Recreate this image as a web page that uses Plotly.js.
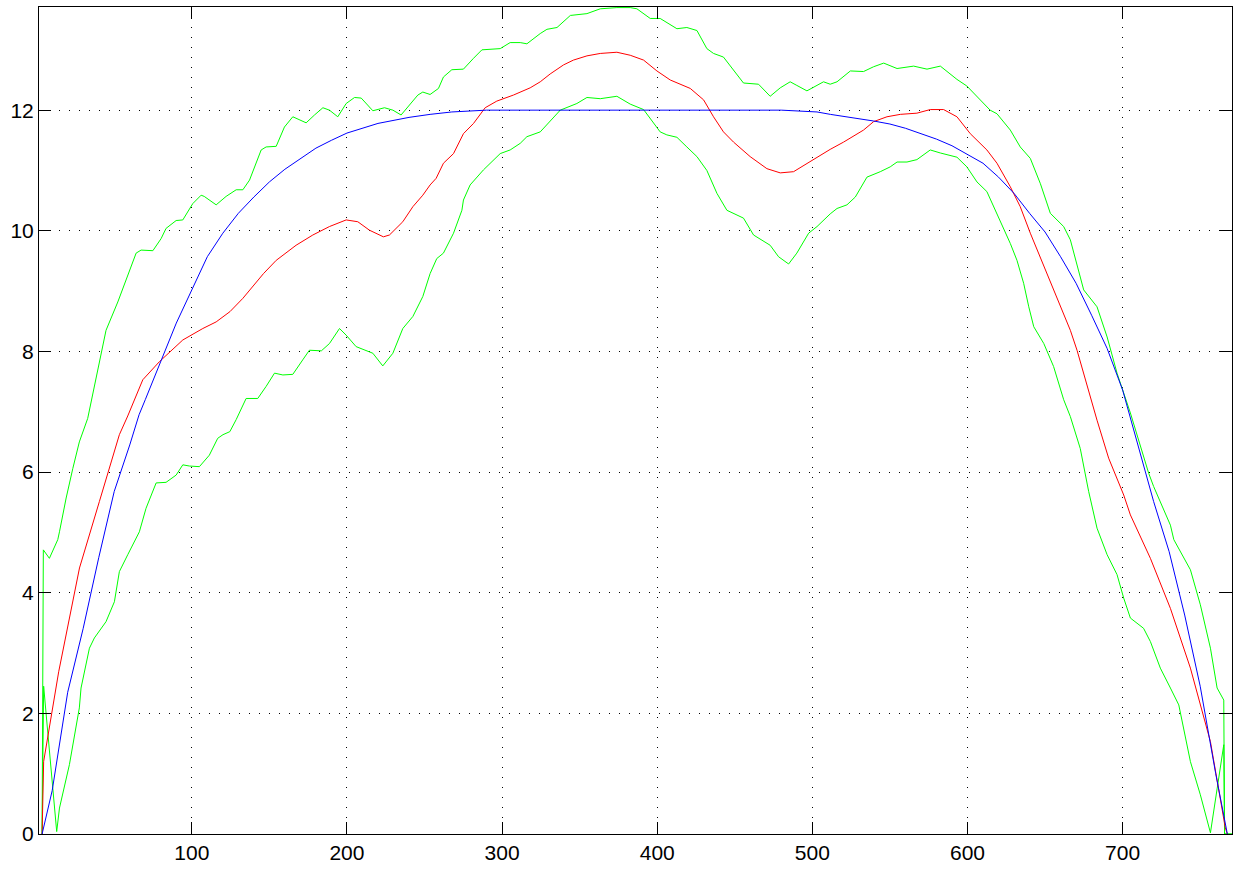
<!DOCTYPE html>
<html>
<head>
<meta charset="utf-8">
<script src="https://cdn.plot.ly/plotly-3.0.1.min.js"></script>
<style>html,body{margin:0;padding:0;background:#fff;}#chart{width:1239px;height:870px;}</style>
</head>
<body>
<div id="chart"></div>
<script>
// Tick values
const xTicks = [100, 200, 300, 400, 500, 600, 700];
const yTicks = [0, 2, 4, 6, 8, 10, 12];

// Blue curve [x, y]
const bluePts = [[3.5,0],[10,0.72],[20,2.35],[30,3.41],[40,4.58],[50,5.68],[60,6.45],[66,6.95],[70,7.2],[80,7.83],[90,8.47],[100,9.02],[110,9.57],[120,9.96],[130,10.29],[140,10.56],[150,10.81],[160,11.02],[170,11.2],[180,11.37],[190,11.5],[200,11.62],[220,11.78],[240,11.88],[253.6,11.93],[267.6,11.97],[290,12.0],[480,12.0],[503,11.97],[511.6,11.93],[539.5,11.82],[550,11.77],[560,11.7],[570,11.61],[580,11.52],[590,11.41],[600,11.27],[610,11.12],[620,10.89],[630,10.62],[640,10.29],[650,9.98],[660,9.57],[670,9.13],[680,8.6],[690,8.05],[700,7.36],[710,6.45],[720,5.51],[730,4.68],[740,3.63],[750,2.45],[760,1.0],[767.5,0]];

// Red curve [x, y]
const redPts = [[3.5,0],[4.5,1.2],[14.2,2.69],[27.6,4.41],[40.4,5.51],[53.3,6.62],[58.7,6.93],[68.4,7.53],[79.1,7.83],[94.2,8.19],[107.1,8.38],[115.7,8.49],[124.6,8.66],[132.9,8.88],[146.2,9.29],[154.4,9.51],[167.2,9.76],[178,9.93],[188.7,10.07],[199.5,10.18],[207,10.15],[214.5,10.01],[223.5,9.9],[227.4,9.93],[236,10.15],[242.5,10.4],[248.9,10.59],[253.6,10.76],[257.5,10.87],[262.2,11.12],[268.7,11.28],[275.1,11.61],[281.6,11.78],[289.1,12.04],[296.6,12.15],[307.3,12.25],[318.1,12.37],[324.6,12.47],[331,12.6],[339.6,12.75],[346,12.83],[354.7,12.9],[363.3,12.94],[374,12.96],[382.6,12.91],[391.2,12.83],[399.8,12.65],[408.4,12.5],[421.3,12.36],[429.9,12.17],[436.3,11.89],[442.7,11.64],[449.2,11.47],[459.9,11.23],[470.7,11.03],[479.3,10.96],[487.9,10.98],[496.5,11.12],[511.5,11.35],[520.1,11.47],[533,11.67],[539.5,11.81],[548.1,11.89],[556.7,11.93],[567.4,11.95],[576,12.01],[584.6,12.01],[593.2,11.89],[601.8,11.61],[612.5,11.34],[619,11.12],[627.6,10.73],[634,10.4],[640.5,9.96],[651.3,9.29],[662,8.63],[666.3,8.35],[670.6,8.02],[677.1,7.42],[683.5,6.86],[691,6.23],[700.7,5.62],[705,5.29],[717.9,4.57],[730.8,3.74],[743.7,2.75],[756.6,1.53],[766.2,0.1],[767.5,0]];

// Upper green curve [x, y]
const upperPts = [[3.5,0],[4.3,4.71],[8.2,4.57],[13.6,4.88],[14.7,5.01],[19,5.57],[23.3,6.06],[27.5,6.5],[32.9,6.89],[39.4,7.69],[44.7,8.35],[52.3,8.82],[57.6,9.18],[64.1,9.63],[67.3,9.68],[74.9,9.67],[80.2,9.87],[83.4,10.04],[89.9,10.17],[94.2,10.18],[100.6,10.45],[106,10.59],[108,10.57],[115.7,10.43],[122.1,10.57],[128.6,10.68],[132.9,10.68],[137.2,10.84],[144.7,11.34],[147.9,11.39],[154.4,11.4],[159.7,11.72],[165.1,11.89],[173.7,11.79],[179.1,11.92],[184.5,12.04],[188.7,12.0],[194.1,11.89],[199.5,12.11],[204.9,12.21],[209.2,12.2],[216.7,11.99],[224.2,12.04],[229.6,12.0],[234.9,11.92],[245.7,12.25],[248.9,12.3],[253.6,12.26],[259,12.36],[262.2,12.55],[267.6,12.67],[275.1,12.68],[281.6,12.86],[287,13.0],[298.8,13.02],[305.2,13.12],[311.7,13.12],[316,13.1],[324.6,13.27],[328.9,13.34],[335.4,13.37],[344,13.57],[354.7,13.6],[363.3,13.68],[374,13.7],[382.6,13.7],[386.9,13.68],[395.5,13.52],[401.9,13.52],[412.7,13.35],[419.1,13.37],[425.6,13.32],[432,13.02],[436.3,12.94],[442.7,12.88],[449.2,12.66],[455.6,12.45],[465.3,12.43],[472.8,12.23],[479.3,12.37],[485.7,12.47],[490,12.41],[496.5,12.32],[507.2,12.47],[511.5,12.43],[515.9,12.47],[524.5,12.65],[533,12.64],[539.5,12.72],[546,12.78],[554.6,12.69],[565.3,12.73],[573.9,12.68],[582.5,12.73],[593.2,12.51],[599.6,12.4],[608.2,12.17],[614.6,12.0],[619,11.94],[627.6,11.67],[634,11.39],[640.5,11.2],[647,10.78],[653.4,10.29],[662,10.07],[666.3,9.85],[674.9,9.02],[683.5,8.74],[690,8.24],[696.4,7.64],[705,6.98],[716.8,5.98],[720,5.76],[730.8,5.12],[733,4.88],[739.3,4.57],[743.7,4.38],[750.1,3.8],[756.6,3.08],[760.9,2.42],[765.2,2.22],[765.7,0],[770.5,0]];

// Lower green curve [x, y]
const lowerPts = [[3.5,0],[4.5,2.45],[12.9,0.04],[14.7,0.43],[21.1,1.15],[27.5,2.09],[28.6,2.42],[34,3.08],[37.2,3.25],[44.7,3.52],[50.1,3.85],[53.3,4.35],[58.7,4.63],[66.2,5.01],[70.5,5.4],[77,5.82],[83.4,5.83],[89.9,5.95],[94.2,6.12],[98.5,6.1],[104.9,6.09],[111.3,6.28],[116.7,6.56],[120.1,6.62],[124.5,6.67],[128.6,6.87],[135,7.22],[142.5,7.22],[147.9,7.42],[153.3,7.64],[158.7,7.61],[165.1,7.62],[171.5,7.86],[175.8,8.02],[183.5,8.01],[188.7,8.13],[195.2,8.38],[199.5,8.27],[205.9,8.08],[212.4,8.02],[216.7,7.97],[223.1,7.76],[229.6,7.97],[236,8.38],[242.5,8.58],[248.9,8.91],[253.6,9.29],[257.9,9.54],[262.2,9.63],[268.7,9.96],[274.1,10.34],[275.1,10.51],[279.4,10.76],[288,11.01],[298.8,11.28],[305.2,11.34],[311.7,11.45],[316,11.56],[324.6,11.64],[337.5,12.0],[348.2,12.11],[354.7,12.21],[363.3,12.19],[374,12.23],[382.6,12.1],[391.2,12.01],[395.5,11.86],[401.9,11.64],[406.2,11.59],[412.7,11.55],[419.1,11.39],[425.6,11.23],[432,11.0],[438.5,10.62],[444.9,10.34],[455.6,10.21],[462.1,9.93],[472.8,9.76],[478.2,9.57],[484.7,9.45],[490,9.63],[497.6,9.96],[503,10.07],[511.5,10.28],[515.9,10.37],[522.3,10.43],[527.7,10.56],[535.2,10.89],[543.8,10.98],[550.2,11.06],[554.6,11.14],[561,11.14],[567.4,11.18],[576,11.34],[582.5,11.29],[593.2,11.22],[599.6,11.06],[606.1,10.81],[612.5,10.65],[619,10.29],[627.6,9.79],[631.9,9.51],[636.2,9.13],[639.5,8.74],[642.7,8.41],[649.2,8.13],[655.5,7.75],[662,7.2],[666.3,6.92],[672.7,6.39],[678.1,5.68],[683.5,5.07],[690,4.63],[696.4,4.3],[700.7,3.91],[705,3.58],[713.5,3.41],[717.9,3.19],[724.3,2.75],[730.8,2.42],[736.2,2.14],[743.7,1.2],[750.1,0.65],[756.6,0.02],[765.2,1.48],[765.7,0],[770.5,0]];

function mk(pts, color) {
  return {
    x: pts.map(p => p[0]),
    y: pts.map(p => p[1]),
    type: 'scatter',
    mode: 'lines',
    line: {color: color, width: 1},
    hoverinfo: 'skip'
  };
}

const data = [
  mk(upperPts, '#00ff00'),
  mk(lowerPts, '#00ff00'),
  mk(redPts, '#ff0000'),
  mk(bluePts, '#0000ff')
];

const axisCommon = {
  ticks: 'inside',
  ticklen: 12,
  tickwidth: 1,
  tickcolor: '#000',
  showline: true,
  linecolor: '#000',
  linewidth: 1,
  mirror: 'ticks',
  showgrid: true,
  gridcolor: '#000',
  gridwidth: 1,
  griddash: '1px,9px',
  zeroline: false,
  tickfont: {family: 'Liberation Sans, Arial, Helvetica, sans-serif', size: 21, color: '#000'},
  fixedrange: true
};

const layout = {
  width: 1239,
  height: 870,
  margin: {l: 39, r: 7, t: 7, b: 36, pad: 0},
  paper_bgcolor: '#fff',
  plot_bgcolor: '#fff',
  showlegend: false,
  xaxis: Object.assign({}, axisCommon, {range: [1.5, 770.5], tickmode: 'array', tickvals: xTicks, ticktext: xTicks.map(String)}),
  yaxis: Object.assign({}, axisCommon, {range: [0, 13.71], tickmode: 'array', tickvals: yTicks, ticktext: yTicks.map(String)})
};

Plotly.newPlot('chart', data, layout, {displayModeBar: false, staticPlot: true});
</script>
</body>
</html>
